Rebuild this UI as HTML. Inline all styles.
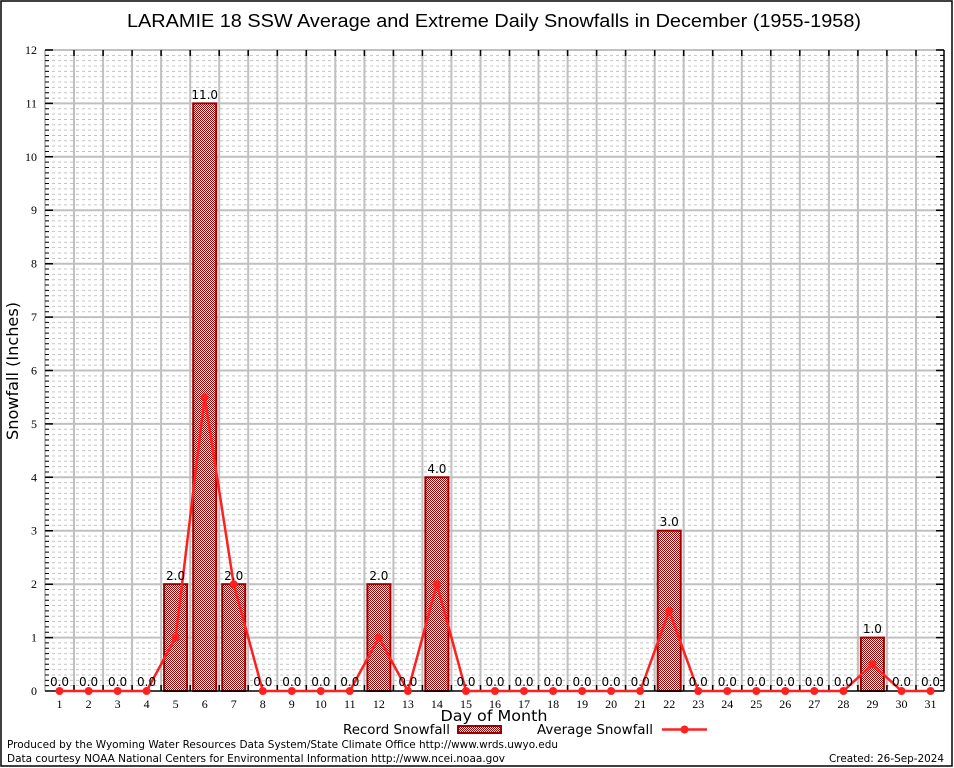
<!DOCTYPE html>
<html><head><meta charset="utf-8"><style>
html,body{margin:0;padding:0;background:#fff;}
svg{display:block;}
</style></head><body>
<svg width="954" height="768" viewBox="0 0 954 768" xmlns="http://www.w3.org/2000/svg">
<defs>
<pattern id="chk" width="2" height="2" patternUnits="userSpaceOnUse">
<rect width="2" height="2" fill="#fff"/>
<rect x="0" y="0" width="1" height="1" fill="#9a0000"/>
<rect x="1" y="1" width="1" height="1" fill="#9a0000"/>
</pattern>
<g id="minor">
<path d="M46 685.66H943M46 680.32H943M46 674.97H943M46 669.63H943M46 664.29H943M46 658.95H943M46 653.61H943M46 648.27H943M46 642.92H943" stroke="#c4c4c4" stroke-width="1" stroke-dasharray="3,3"/>
</g>
<g id="ltick">
<path d="M45 685.66h4M45 680.32h4M45 674.97h4M45 669.63h4M45 664.29h4M45 658.95h4M45 653.61h4M45 648.27h4M45 642.92h4" stroke="#000" stroke-width="1"/>
<path d="M944 685.66h-4M944 680.32h-4M944 674.97h-4M944 669.63h-4M944 664.29h-4M944 658.95h-4M944 653.61h-4M944 648.27h-4M944 642.92h-4" stroke="#000" stroke-width="1"/>
</g>
</defs>
<rect x="0" y="0" width="954" height="768" fill="#fff"/>
<rect x="1" y="1" width="951" height="765" fill="none" stroke="#000" stroke-width="1.5"/>

<text x="494" y="27" font-family="Liberation Sans, sans-serif" font-size="18" text-anchor="middle" textLength="734" lengthAdjust="spacingAndGlyphs">LARAMIE 18 SSW Average and Extreme Daily Snowfalls in December (1955-1958)</text>

<use href="#minor"/>
<use href="#minor" transform="translate(0,-53.417)"/>
<use href="#minor" transform="translate(0,-106.834)"/>
<use href="#minor" transform="translate(0,-160.251)"/>
<use href="#minor" transform="translate(0,-213.668)"/>
<use href="#minor" transform="translate(0,-267.085)"/>
<use href="#minor" transform="translate(0,-320.502)"/>
<use href="#minor" transform="translate(0,-373.919)"/>
<use href="#minor" transform="translate(0,-427.336)"/>
<use href="#minor" transform="translate(0,-480.753)"/>
<use href="#minor" transform="translate(0,-534.17)"/>
<use href="#minor" transform="translate(0,-587.587)"/>

<g stroke="#c0c0c0" stroke-width="2">
<path d="M45 637.6H944M45 584.2H944M45 530.7H944M45 477.3H944M45 423.9H944M45 370.5H944M45 317.1H944M45 263.7H944M45 210.2H944M45 156.8H944M45 103.4H944"/>
<path d="M74 50V691M103.1 50V691M132.1 50V691M161.1 50V691M190.2 50V691M219.2 50V691M248.2 50V691M277.3 50V691M306.3 50V691M335.3 50V691M364.4 50V691M393.4 50V691M422.4 50V691M451.4 50V691M480.5 50V691M509.5 50V691M538.5 50V691M567.6 50V691M596.6 50V691M625.6 50V691M654.7 50V691M683.7 50V691M712.7 50V691M741.8 50V691M770.8 50V691M799.8 50V691M828.9 50V691M857.9 50V691M886.9 50V691M916 50V691"/>
<path d="M45 50H944M45 50V691"/>
</g>

<g fill="url(#chk)" stroke="#a00000" stroke-width="2">
<rect x="164.1" y="584.2" width="23" height="106.8"/>
<rect x="193.2" y="103.4" width="23" height="587.6"/>
<rect x="222.2" y="584.2" width="23" height="106.8"/>
<rect x="367.4" y="584.2" width="23" height="106.8"/>
<rect x="425.4" y="477.3" width="23" height="213.7"/>
<rect x="657.7" y="530.7" width="23" height="160.3"/>
<rect x="860.9" y="637.6" width="23" height="53.4"/>
</g>

<g stroke="#000" stroke-width="1.5">
<path d="M45 691H944M944 50V691"/>
<path d="M45 637.6h8M45 584.2h8M45 530.7h8M45 477.3h8M45 423.9h8M45 370.5h8M45 317.1h8M45 263.7h8M45 210.2h8M45 156.8h8M45 103.4h8M45 50h8"/>
<path d="M944 637.6h-8M944 584.2h-8M944 530.7h-8M944 477.3h-8M944 423.9h-8M944 370.5h-8M944 317.1h-8M944 263.7h-8M944 210.2h-8M944 156.8h-8M944 103.4h-8M944 50h-8"/>
<path d="M74 50v6M103.1 50v6M132.1 50v6M161.1 50v6M190.2 50v6M219.2 50v6M248.2 50v6M277.3 50v6M306.3 50v6M335.3 50v6M364.4 50v6M393.4 50v6M422.4 50v6M451.4 50v6M480.5 50v6M509.5 50v6M538.5 50v6M567.6 50v6M596.6 50v6M625.6 50v6M654.7 50v6M683.7 50v6M712.7 50v6M741.8 50v6M770.8 50v6M799.8 50v6M828.9 50v6M857.9 50v6M886.9 50v6M916 50v6"/>
<path d="M74 691v-6M103.1 691v-6M132.1 691v-6M161.1 691v-6M190.2 691v-6M219.2 691v-6M248.2 691v-6M277.3 691v-6M306.3 691v-6M335.3 691v-6M364.4 691v-6M393.4 691v-6M422.4 691v-6M451.4 691v-6M480.5 691v-6M509.5 691v-6M538.5 691v-6M567.6 691v-6M596.6 691v-6M625.6 691v-6M654.7 691v-6M683.7 691v-6M712.7 691v-6M741.8 691v-6M770.8 691v-6M799.8 691v-6M828.9 691v-6M857.9 691v-6M886.9 691v-6M916 691v-6"/>
</g>
<use href="#ltick"/>
<use href="#ltick" transform="translate(0,-53.417)"/>
<use href="#ltick" transform="translate(0,-106.834)"/>
<use href="#ltick" transform="translate(0,-160.251)"/>
<use href="#ltick" transform="translate(0,-213.668)"/>
<use href="#ltick" transform="translate(0,-267.085)"/>
<use href="#ltick" transform="translate(0,-320.502)"/>
<use href="#ltick" transform="translate(0,-373.919)"/>
<use href="#ltick" transform="translate(0,-427.336)"/>
<use href="#ltick" transform="translate(0,-480.753)"/>
<use href="#ltick" transform="translate(0,-534.17)"/>
<use href="#ltick" transform="translate(0,-587.587)"/>

<polyline fill="none" stroke="#ff2020" stroke-width="2.5" stroke-linejoin="round" points="59.5,691 88.6,691 117.6,691 146.6,691 175.6,637.6 204.7,397.2 233.7,584.2 262.8,691 291.8,691 320.8,691 349.8,691 378.9,637.6 407.9,691 436.9,584.2 466,691 495,691 524,691 553.1,691 582.1,691 611.1,691 640.2,691 669.2,610.9 698.2,691 727.3,691 756.3,691 785.3,691 814.3,691 843.4,691 872.4,664.3 901.5,691 930.5,691"/>
<g fill="#ff2020">
<circle cx="59.5" cy="691" r="4"/><circle cx="88.6" cy="691" r="4"/><circle cx="117.6" cy="691" r="4"/><circle cx="146.6" cy="691" r="4"/><circle cx="175.6" cy="637.6" r="4"/><circle cx="204.7" cy="397.2" r="4"/><circle cx="233.7" cy="584.2" r="4"/><circle cx="262.8" cy="691" r="4"/><circle cx="291.8" cy="691" r="4"/><circle cx="320.8" cy="691" r="4"/><circle cx="349.8" cy="691" r="4"/><circle cx="378.9" cy="637.6" r="4"/><circle cx="407.9" cy="691" r="4"/><circle cx="436.9" cy="584.2" r="4"/><circle cx="466" cy="691" r="4"/><circle cx="495" cy="691" r="4"/><circle cx="524" cy="691" r="4"/><circle cx="553.1" cy="691" r="4"/><circle cx="582.1" cy="691" r="4"/><circle cx="611.1" cy="691" r="4"/><circle cx="640.2" cy="691" r="4"/><circle cx="669.2" cy="610.9" r="4"/><circle cx="698.2" cy="691" r="4"/><circle cx="727.3" cy="691" r="4"/><circle cx="756.3" cy="691" r="4"/><circle cx="785.3" cy="691" r="4"/><circle cx="814.3" cy="691" r="4"/><circle cx="843.4" cy="691" r="4"/><circle cx="872.4" cy="664.3" r="4"/><circle cx="901.5" cy="691" r="4"/><circle cx="930.5" cy="691" r="4"/>
</g>

<g font-family="DejaVu Sans, sans-serif" font-size="12" text-anchor="middle" fill="#000">
<text x="59.5" y="686">0.0</text><text x="88.6" y="686">0.0</text><text x="117.6" y="686">0.0</text><text x="146.6" y="686">0.0</text>
<text x="175.6" y="580">2.0</text><text x="204.7" y="99">11.0</text><text x="233.7" y="580">2.0</text>
<text x="262.8" y="686">0.0</text><text x="291.8" y="686">0.0</text><text x="320.8" y="686">0.0</text><text x="349.8" y="686">0.0</text>
<text x="378.9" y="580">2.0</text><text x="407.9" y="686">0.0</text><text x="436.9" y="473">4.0</text>
<text x="466" y="686">0.0</text><text x="495" y="686">0.0</text><text x="524" y="686">0.0</text><text x="553.1" y="686">0.0</text><text x="582.1" y="686">0.0</text><text x="611.1" y="686">0.0</text><text x="640.2" y="686">0.0</text>
<text x="669.2" y="526">3.0</text>
<text x="698.2" y="686">0.0</text><text x="727.3" y="686">0.0</text><text x="756.3" y="686">0.0</text><text x="785.3" y="686">0.0</text><text x="814.3" y="686">0.0</text><text x="843.4" y="686">0.0</text>
<text x="872.4" y="633">1.0</text><text x="901.5" y="686">0.0</text><text x="930.5" y="686">0.0</text>
</g>

<g font-family="Liberation Serif, serif" font-size="12" text-anchor="end" fill="#000">
<text x="37" y="695">0</text><text x="37" y="641.6">1</text><text x="37" y="588.2">2</text><text x="37" y="534.7">3</text><text x="37" y="481.3">4</text><text x="37" y="427.9">5</text><text x="37" y="374.5">6</text><text x="37" y="321.1">7</text><text x="37" y="267.7">8</text><text x="37" y="214.2">9</text><text x="37" y="160.8">10</text><text x="37" y="107.4">11</text><text x="37" y="54">12</text>
</g>

<g font-family="Liberation Serif, serif" font-size="12" text-anchor="middle" fill="#000">
<text x="59.5" y="708">1</text><text x="88.6" y="708">2</text><text x="117.6" y="708">3</text><text x="146.6" y="708">4</text><text x="175.6" y="708">5</text><text x="204.7" y="708">6</text><text x="233.7" y="708">7</text><text x="262.8" y="708">8</text><text x="291.8" y="708">9</text><text x="320.8" y="708">10</text><text x="349.8" y="708">11</text><text x="378.9" y="708">12</text><text x="407.9" y="708">13</text><text x="436.9" y="708">14</text><text x="466" y="708">15</text><text x="495" y="708">16</text><text x="524" y="708">17</text><text x="553.1" y="708">18</text><text x="582.1" y="708">19</text><text x="611.1" y="708">20</text><text x="640.2" y="708">21</text><text x="669.2" y="708">22</text><text x="698.2" y="708">23</text><text x="727.3" y="708">24</text><text x="756.3" y="708">25</text><text x="785.3" y="708">26</text><text x="814.3" y="708">27</text><text x="843.4" y="708">28</text><text x="872.4" y="708">29</text><text x="901.5" y="708">30</text><text x="930.5" y="708">31</text>
</g>

<text x="494" y="721" font-family="DejaVu Sans, sans-serif" font-size="15" text-anchor="middle" textLength="107" lengthAdjust="spacingAndGlyphs">Day of Month</text>
<text transform="translate(18,371) rotate(-90)" font-family="DejaVu Sans, sans-serif" font-size="16" text-anchor="middle" textLength="138" lengthAdjust="spacingAndGlyphs">Snowfall (Inches)</text>

<text x="343" y="734" font-family="DejaVu Sans, sans-serif" font-size="13" textLength="107" lengthAdjust="spacingAndGlyphs">Record Snowfall</text>
<rect x="458" y="726" width="43" height="7" fill="url(#chk)" stroke="#a00000" stroke-width="2"/>
<text x="537" y="734" font-family="DejaVu Sans, sans-serif" font-size="13" textLength="116" lengthAdjust="spacingAndGlyphs">Average Snowfall</text>
<path d="M662 729.5H707" stroke="#ff2020" stroke-width="2.5"/>
<circle cx="684.5" cy="729.5" r="4" fill="#ff2020"/>

<g font-family="DejaVu Sans, sans-serif" font-size="11" fill="#000">
<text x="7" y="748" textLength="551" lengthAdjust="spacingAndGlyphs">Produced by the Wyoming Water Resources Data System/State Climate Office http://www.wrds.uwyo.edu</text>
<text x="7" y="762" textLength="498" lengthAdjust="spacingAndGlyphs">Data courtesy NOAA National Centers for Environmental Information http://www.ncei.noaa.gov</text>
<text x="829" y="762" textLength="115" lengthAdjust="spacingAndGlyphs">Created: 26-Sep-2024</text>
</g>
</svg>
</body></html>
